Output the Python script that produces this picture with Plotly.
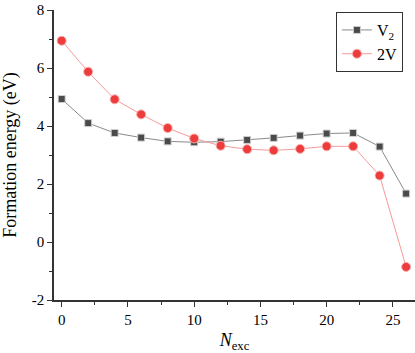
import plotly.graph_objects as go

n_exc = [0, 2, 4, 6, 8, 10, 12, 14, 16, 18, 20, 22, 24, 26]
v2 = [4.93, 4.10, 3.76, 3.60, 3.47, 3.44, 3.46, 3.52, 3.59, 3.67, 3.74, 3.76, 3.29, 1.67]
two_v = [6.94, 5.87, 4.92, 4.40, 3.93, 3.57, 3.32, 3.20, 3.16, 3.21, 3.30, 3.30, 2.29, -0.86]
x_ticks = [0, 5, 10, 15, 20, 25]
y_ticks = [-2, 0, 2, 4, 6, 8]
y_tick_text = ["-2", "0", "2", "4", "6", "8"]

FONT = "Liberation Serif"

fig = go.Figure()
fig.add_trace(go.Scatter(
    x=n_exc, y=v2, mode="lines+markers", name="V<sub>2</sub>",
    line=dict(color="#8a8a8a", width=1),
    marker=dict(symbol="square", size=7, color="#4a4a4a",
                line=dict(color="#d0d0d0", width=1)),
    cliponaxis=False,
))
fig.add_trace(go.Scatter(
    x=n_exc, y=two_v, mode="lines+markers", name="2V",
    line=dict(color="#f59a9a", width=1),
    marker=dict(symbol="circle", size=9, color="#ee3b3b",
                line=dict(color="#f7b0b0", width=1)),
    cliponaxis=False,
))

fig.update_layout(
    template="none",
    width=415, height=353,
    margin=dict(l=54, r=0, t=10, b=53, autoexpand=False),
    paper_bgcolor="white", plot_bgcolor="white",
    font=dict(family=FONT, size=15, color="black"),
    showlegend=True,
    legend=dict(x=0.781, y=0.993, xanchor="left", yanchor="top",
                bordercolor="#333333", borderwidth=1, bgcolor="white",
                font=dict(family=FONT, size=16), tracegroupgap=0,
                itemwidth=30),
    xaxis=dict(
        range=[-0.58, 26.67], tickvals=x_ticks,
        ticks="outside", ticklen=5, tickwidth=1, tickcolor="#333333",
        showline=True, linecolor="#333333", linewidth=1.5,
        showgrid=False, zeroline=False, automargin=False,
        minor=dict(tickvals=[2.5, 7.5, 12.5, 17.5, 22.5], ticks="outside",
                   ticklen=3, tickcolor="#333333", showgrid=False),
        title=dict(text="<i>N</i><sub>exc</sub>", font=dict(family=FONT, size=18)),
        tickfont=dict(family=FONT, size=15, color="black"),
    ),
    yaxis=dict(
        range=[-2, 8], tickvals=y_ticks, ticktext=y_tick_text,
        ticks="outside", ticklen=5, tickwidth=1, tickcolor="#333333",
        showline=True, linecolor="#333333", linewidth=1.5,
        showgrid=False, zeroline=False, automargin=False,
        minor=dict(tickvals=[-1, 1, 3, 5, 7], ticks="outside",
                   ticklen=3, tickcolor="#333333", showgrid=False),
        title=dict(text="Formation energy (eV)", font=dict(family=FONT, size=18)),
        tickfont=dict(family=FONT, size=15, color="black"),
    ),
)

post = (
    "document.body.style.margin='0';"
    "var s=document.createElement('style');"
    "s.textContent=\"svg text{font-family:'Liberation Serif','Times New Roman',serif !important;}\";"
    "document.head.appendChild(s);"
)
fig.write_html("out.html", config={"displayModeBar": False}, post_script=post)
